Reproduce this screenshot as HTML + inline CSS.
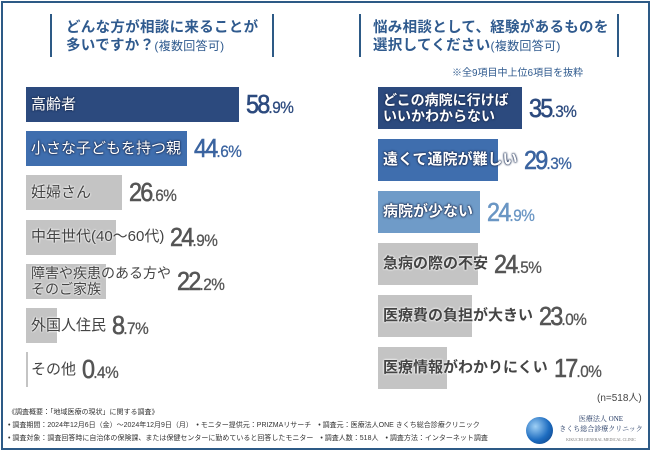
<!DOCTYPE html>
<html><head><meta charset="utf-8"><style>
body{margin:0;width:650px;height:450px;background:#fff;position:relative;overflow:hidden;font-family:"Liberation Sans","Noto Sans CJK JP",sans-serif}
.frame{position:absolute;left:1px;top:1px;width:645px;height:445px;border:2px solid #2d5a86}
.tline{position:absolute;width:1.5px;background:#2d5a86}
.title{position:absolute;color:#2f5a8e;font-size:14.5px;line-height:18px;font-weight:bold;letter-spacing:.3px}
.title small{font-size:12px;font-weight:normal}
.row{position:absolute;display:flex;align-items:center}
.bar{position:absolute;left:0;top:0}
.lab{position:relative;line-height:16px;padding-left:5px;box-sizing:border-box;white-space:nowrap}
.val{position:relative;font-family:"Liberation Sans Narrow","Liberation Sans",sans-serif;font-weight:normal;font-size:26px;letter-spacing:-2px;transform:scaleX(.9);transform-origin:left center;-webkit-text-stroke:0.6px currentColor}
.val span{font-size:17px;letter-spacing:-.5px;-webkit-text-stroke:0.3px currentColor}
.w{color:#fff;text-shadow:0 0 2px #1d2f55,0 0 2px #1d2f55,0 0 1px #1d2f55}
.g{color:#444;text-shadow:0 0 2px #fff,0 0 2px #fff}
.foot{position:absolute;left:8px;font-size:7px;color:#333;white-space:nowrap}
</style></head><body>
<div class="frame"></div>
<div class="tline" style="left:50px;top:14px;height:43px"></div>
<div class="tline" style="left:272px;top:14px;height:43px"></div>
<div class="title" style="left:66px;top:19px">どんな方が相談に来ることが<br>多いですか？<small>(複数回答可)</small></div>
<div class="tline" style="left:359px;top:14px;height:43px"></div>
<div class="tline" style="left:617px;top:14px;height:43px"></div>
<div class="title" style="left:373px;top:19px">悩み相談として、経験があるものを<br>選択してください<small>(複数回答可)</small></div>
<div style="position:absolute;left:452px;top:64px;font-size:10px;color:#2f5a8e">※全9項目中上位6項目を抜粋</div>
<div id="left"></div>
<div id="right"></div>
<div style="position:absolute;left:597px;top:389px;font-size:10px;color:#444">(n=518人)</div>
<div class="foot" style="top:407px">《調査概要：「地域医療の現状」に関する調査》</div>
<div class="foot" style="top:420px">• 調査期間：2024年12月6日（金）〜2024年12月9日（月）　• モニター提供元：PRIZMAリサーチ　• 調査元：医療法人ONE きくち総合診療クリニック</div>
<div class="foot" style="top:433px">• 調査対象：調査回答時に自治体の保険課、または保健センターに勤めていると回答したモニター　• 調査人数：518人　• 調査方法：インターネット調査</div>
<div style="position:absolute;left:526px;top:417px;width:27px;height:27px;border-radius:50%;background:radial-gradient(circle at 35% 35%,#9fd0f5,#1d6cc0 55%,#0b3a7a)"></div>
<div style="position:absolute;left:558px;top:414px;width:86px;text-align:center;font-size:7px;color:#1e3560;line-height:10px;white-space:nowrap;font-family:'Liberation Serif','Noto Serif CJK SC',serif">医療法人 ONE<br>きくち総合診療クリニック<br><span style="font-size:4px;color:#777">KIKUCHI GENERAL MEDICAL CLINIC</span></div>
<script>
const leftCats=["高齢者","小さな子どもを持つ親","妊婦さん","中年世代(40～60代)","障害や疾患のある方や<br>そのご家族","外国人住民","その他"];
const leftVals=[58.9,44.6,26.6,24.9,22.2,8.7,0.4];
const rightCats=["どこの病院に行けば<br>いいかわからない","遠くて通院が難しい","病院が少ない","急病の際の不安","医療費の負担が大きい","医療情報がわかりにくい"];
const rightVals=[35.3,29.3,24.9,24.5,23.0,17.0];
const leftStyle=[["#2c4a7e","#2c4a7e","w"],["#3f6eae","#3b64a0","w"],["#c4c4c4","#555","g"],["#c4c4c4","#555","g"],["#c4c4c4","#555","g"],["#c4c4c4","#555","g"],["#c4c4c4","#555","g"]];
const rightStyle=[["#2c4a7e","#2c4a7e","w"],["#3f6eae","#3b64a0","w"],["#6f9bc8","#6a96c4","w"],["#c4c4c4","#555","g"],["#c4c4c4","#555","g"],["#c4c4c4","#555","g"]];
function build(parent,cats,vals,sty,x0,y0,pitch,h,scale,fs,name){
  const p=document.getElementById(parent);
  cats.forEach((c,i)=>{
    const w=Math.max(vals[i]*scale,1.5);
    const row=document.createElement('div');
    row.className='row';
    
    
    row.style.cssText=`left:${x0}px;top:${y0+i*pitch}px;height:${h}px`;
    const bar=document.createElement('div');
    bar.className='bar';
    
    
    bar.style.cssText=`width:${w}px;height:${h}px;background:${sty[i][0]}`;
    row.appendChild(bar);
    const lab=document.createElement('div');
    lab.className='lab '+sty[i][2];
    
    
    lab.style.cssText=`min-width:${w+7}px;font-size:${c.includes('<br>')?fs-1:fs}px;padding-right:6px;font-weight:${name==='right'?'bold':'normal'}`;
    lab.innerHTML=c;
    row.appendChild(lab);
    const v=document.createElement('div');
    v.className='val';
    
    
    v.style.color=sty[i][1];
    const s=vals[i].toFixed(1).split('.');
    v.innerHTML=s[0]+'<span>.'+s[1]+'%</span>';
    row.appendChild(v);
    p.appendChild(row);
  });
}
build('left',leftCats,leftVals,leftStyle,26,87,44.2,35,3.616,15,'left');
build('right',rightCats,rightVals,rightStyle,378,87,52,42,4.08,15,'right');
</script>
</body></html>
